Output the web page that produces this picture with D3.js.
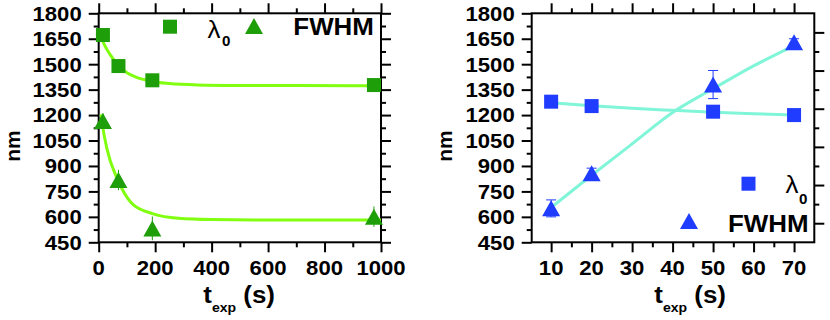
<!DOCTYPE html>
<html><head><meta charset="utf-8">
<script src="https://cdn.jsdelivr.net/npm/d3@7"></script>
<style>
body{margin:0;background:#fff}
svg{display:block}
text{font-family:"Liberation Sans",Arial,Helvetica,sans-serif;fill:#000}
</style>
</head><body>
<svg width="830" height="320"></svg>
<script>
// ---------------- data ----------------
// shared y axis
const yTickValues = [450, 600, 750, 900, 1050, 1200, 1350, 1500, 1650, 1800];
const yTickLabels = ["450", "600", "750", "900", "1050", "1200", "1350", "1500", "1650", "1800"];

// left panel
const leftXTickValues = [0, 200, 400, 600, 800, 1000];
const leftXTickLabels = ["0", "200", "400", "600", "800", "1000"];
const leftT = [15, 70, 190, 975];
const leftLambda0 = [1672, 1489, 1405, 1377];
const leftFWHM = [1165, 817, 532, 601];
const leftFWHMErr = [45, 60, 70, 60];
const leftLambdaFitT = [8, 20, 40, 70, 100, 130, 190, 250, 350, 500, 700, 1000];
const leftLambdaFitV = [1665, 1615, 1558, 1492, 1450, 1425, 1398, 1386, 1378, 1375, 1374, 1373];
const leftFWHMFitT = [8, 20, 40, 52, 81, 123, 193, 282, 400, 600, 1000];
const leftFWHMFitV = [1205, 1075, 935, 880, 770, 670, 618, 592, 584, 581, 581];

// right panel
const rightXTickValues = [10, 20, 30, 40, 50, 60, 70];
const rightXTickLabels = ["10", "20", "30", "40", "50", "60", "70"];
const rightT = [10, 20, 50, 70];
const rightLambda0 = [1279, 1253, 1220, 1200];
const rightFWHM = [650, 857, 1380, 1630];
const rightFWHMErr = [50, 30, 83, 20];
const rightLambdaFitT = [10, 20, 30, 40, 50, 60, 70];
const rightLambdaFitV = [1272, 1255, 1240, 1228, 1217, 1208, 1200];
const rightFWHMFitT = [10, 20, 30, 40, 50, 60, 70];
const rightFWHMFitV = [655, 845, 1030, 1215, 1355, 1490, 1610];

// ---------------- drawing ----------------
const svg = d3.select("svg");
const SX = 1.08;
const TOP = 13.3, BOTTOM = 242.3;
const y = d3.scaleLinear().domain([450, 1800]).range([BOTTOM, TOP]);
const yMinor = d3.range(525, 1800, 150);

function addText(g, x, yy, str, size, anchor, weight) {
  return g.append("text")
    .attr("transform", `translate(${x},${yy}) scale(${SX},1)`)
    .attr("text-anchor", anchor || "start")
    .style("font-size", size + "px")
    .style("font-weight", weight || "bold")
    .text(str);
}

function styleAxis(sel) {
  sel.select(".domain").remove();
  sel.selectAll(".tick line").attr("stroke", "#000").attr("stroke-width", 2);
  sel.selectAll(".tick text").remove();
}

const triPath = "M0,-8L9,8L-9,8Z";

function panel(cfg) {
  const g = svg.append("g");
  const x = d3.scaleLinear().domain(cfg.xDomain).range([cfg.x0, cfg.x1]);

  // axes ticks
  const axB = d3.axisBottom(x).tickValues(cfg.xMajor).tickSize(10).tickSizeOuter(0).tickFormat("");
  const axBm = d3.axisBottom(x).tickValues(cfg.xMinor).tickSize(5).tickSizeOuter(0).tickFormat("");
  const axT = d3.axisTop(x).tickValues(cfg.xMajor).tickSize(10).tickSizeOuter(0).tickFormat("");
  const axTm = d3.axisTop(x).tickValues(cfg.xMinor).tickSize(5).tickSizeOuter(0).tickFormat("");
  g.append("g").attr("transform", `translate(0,${BOTTOM})`).call(axB).call(styleAxis);
  g.append("g").attr("transform", `translate(0,${BOTTOM})`).call(axBm).call(styleAxis);
  g.append("g").attr("transform", `translate(0,${TOP})`).call(axT).call(styleAxis);
  g.append("g").attr("transform", `translate(0,${TOP})`).call(axTm).call(styleAxis);

  const axL = d3.axisLeft(y).tickValues(yTickValues).tickSize(10).tickSizeOuter(0).tickFormat("");
  const axLm = d3.axisLeft(y).tickValues(yMinor).tickSize(5).tickSizeOuter(0).tickFormat("");
  g.append("g").attr("transform", `translate(${cfg.x0},0)`).call(axL).call(styleAxis);
  g.append("g").attr("transform", `translate(${cfg.x0},0)`).call(axLm).call(styleAxis);

  if (cfg.secondaryRight) {
    const y2 = d3.scaleLinear().domain([0, 12]).range([BOTTOM, TOP]);
    const t = d3.range(1, 12);
    const axR = d3.axisRight(y2).tickValues(t.filter(v => v % 2 === 1)).tickSize(10).tickSizeOuter(0).tickFormat("");
    const axRm = d3.axisRight(y2).tickValues(t.filter(v => v % 2 === 0)).tickSize(5).tickSizeOuter(0).tickFormat("");
    g.append("g").attr("transform", `translate(${cfg.x1},0)`).call(axR).call(styleAxis);
    g.append("g").attr("transform", `translate(${cfg.x1},0)`).call(axRm).call(styleAxis);
  } else {
    const axR = d3.axisRight(y).tickValues(yTickValues).tickSize(10).tickSizeOuter(0).tickFormat("");
    const axRm = d3.axisRight(y).tickValues(yMinor).tickSize(5).tickSizeOuter(0).tickFormat("");
    g.append("g").attr("transform", `translate(${cfg.x1},0)`).call(axR).call(styleAxis);
    g.append("g").attr("transform", `translate(${cfg.x1},0)`).call(axRm).call(styleAxis);
  }

  // frame
  g.append("rect").attr("x", cfg.x0).attr("y", TOP)
    .attr("width", cfg.x1 - cfg.x0).attr("height", BOTTOM - TOP)
    .attr("fill", "none").attr("stroke", "#000").attr("stroke-width", 2);

  // tick labels
  cfg.xMajor.forEach((v, i) => addText(g, x(v), 275, cfg.xLabels[i], 20.5, "middle"));
  yTickValues.forEach((v, i) => addText(g, cfg.x0 - 17, y(v) + 7.4, yTickLabels[i], 20.5, "end"));

  // axis titles
  g.append("text")
    .attr("transform", `translate(${cfg.nmX},146) rotate(-90)`)
    .attr("text-anchor", "middle").style("font-size", "21px").style("font-weight", "bold").text("nm");
  const xt = g.append("text")
    .attr("transform", `translate(${cfg.titleX},303) scale(${SX},1)`)
    .style("font-size", "24px").style("font-weight", "bold");
  xt.append("tspan").text("t");
  xt.append("tspan").attr("dy", 9).style("font-size", "13px").text("exp");
  xt.append("tspan").attr("dy", -9).text(" (s)");

  // fit curves
  const line = d3.line().x(d => x(d[0])).y(d => y(d[1])).curve(d3.curveMonotoneX);
  [[cfg.fitLT, cfg.fitLV], [cfg.fitFT, cfg.fitFV]].forEach(([ts, vs]) => {
    g.append("path").attr("d", line(ts.map((t, i) => [t, vs[i]])))
      .attr("fill", "none").attr("stroke", cfg.lineColor).attr("stroke-width", 3);
  });

  // error bars
  cfg.t.forEach((t, i) => {
    const cx = x(t), v = cfg.fwhm[i], e = cfg.err[i];
    g.append("line").attr("x1", cx).attr("x2", cx).attr("y1", y(v - e)).attr("y2", y(v + e))
      .attr("stroke", cfg.markColor).attr("stroke-width", 1);
    if (cfg.cap > 0) {
      [v - e, v + e].forEach(w => g.append("line")
        .attr("x1", cx - cfg.cap / 2).attr("x2", cx + cfg.cap / 2)
        .attr("y1", y(w)).attr("y2", y(w))
        .attr("stroke", cfg.markColor).attr("stroke-width", 1));
    }
  });

  // markers
  cfg.t.forEach((t, i) => {
    g.append("rect").attr("x", x(t) - 7).attr("y", y(cfg.lambda[i]) - 7)
      .attr("width", 14).attr("height", 14).attr("fill", cfg.markColor);
    g.append("path").attr("d", triPath)
      .attr("transform", `translate(${x(t)},${y(cfg.fwhm[i])})`).attr("fill", cfg.markColor);
  });

  // legend
  const L = cfg.legend;
  g.append("rect").attr("x", L.sq[0] - 7).attr("y", L.sq[1] - 7).attr("width", 14).attr("height", 14).attr("fill", cfg.markColor);
  addText(g, L.lam[0], L.lam[1], "λ", 24, "start", "normal");
  addText(g, L.sub[0], L.sub[1], "0", 14, "start");
  g.append("path").attr("d", triPath).attr("transform", `translate(${L.tri[0]},${L.tri[1]})`).attr("fill", cfg.markColor);
  addText(g, L.fw[0], L.fw[1], "FWHM", 24, "start");
}

panel({
  x0: 98.7, x1: 381, xDomain: [0, 1000],
  xMajor: leftXTickValues, xLabels: leftXTickLabels, xMinor: [100, 300, 500, 700, 900],
  secondaryRight: false,
  nmX: 19.5, titleX: 203.3,
  t: leftT, lambda: leftLambda0, fwhm: leftFWHM, err: leftFWHMErr, cap: 0,
  fitLT: leftLambdaFitT, fitLV: leftLambdaFitV, fitFT: leftFWHMFitT, fitFV: leftFWHMFitV,
  markColor: "#1e9e08", lineColor: "#80ff10",
  legend: { sq: [170, 26.7], lam: [207.5, 37.5], sub: [222, 45.5], tri: [254, 26], fw: [293.3, 35] }
});

panel({
  x0: 531.7, x1: 814.3, xDomain: [5.2, 75],
  xMajor: rightXTickValues, xLabels: rightXTickLabels, xMinor: [15, 25, 35, 45, 55, 65],
  secondaryRight: true,
  nmX: 452, titleX: 654.3,
  t: rightT, lambda: rightLambda0, fwhm: rightFWHM, err: rightFWHMErr, cap: 10,
  fitLT: rightLambdaFitT, fitLV: rightLambdaFitV, fitFT: rightFWHMFitT, fitFV: rightFWHMFitV,
  markColor: "#1f3cff", lineColor: "#80f5d8",
  legend: { sq: [748.5, 183.7], lam: [785.5, 193], sub: [799, 203.5], tri: [689, 221], fw: [728, 231.7] }
});
</script>
</body></html>
